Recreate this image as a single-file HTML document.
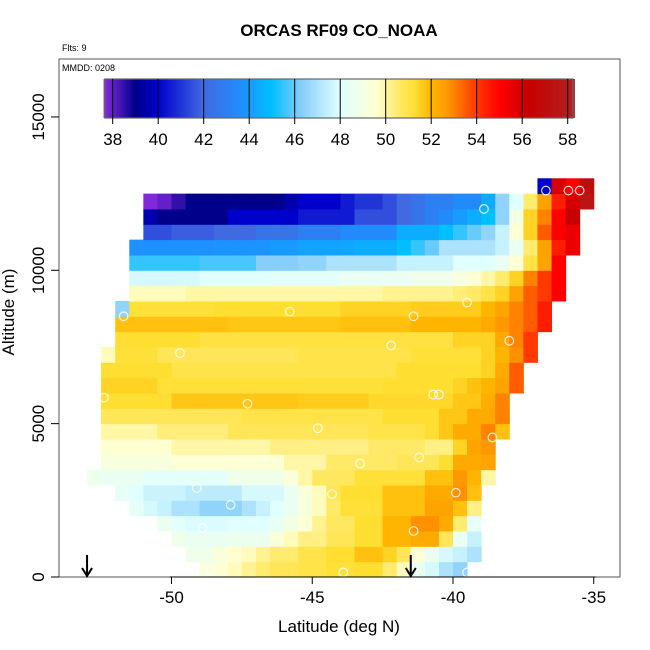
<!DOCTYPE html>
<html><head><meta charset="utf-8"><style>
body{margin:0;background:#fff;}
svg{display:block;font-family:"Liberation Sans",Arial,sans-serif;}
</style></head><body>
<svg id="chart" width="650" height="650" viewBox="0 0 650 650">
<g id="cells"></g>
<g id="pts"></g>
<g id="cbar"></g>
<rect x="59" y="59" width="561" height="518" fill="none" stroke="#555" stroke-width="1"/>
<g id="axes"></g>
<text x="339" y="36" text-anchor="middle" font-size="17" font-weight="bold">ORCAS RF09 CO_NOAA</text>
<text x="62" y="51" font-size="9">Flts: 9</text>
<text x="62" y="71" font-size="9">MMDD: 0208</text>
<text x="339" y="632" text-anchor="middle" font-size="17">Latitude (deg N)</text>
<text transform="translate(14,312) rotate(-90)" text-anchor="middle" font-size="17">Altitude (m)</text>
</svg>
<script>
const N=null;
const latStart=-53, latStep=0.5;
const altStep=500;
// rows from altitude 0-500 (index 0) upward; 36 columns from -53 to -35
const coRows=[
[N,N,N,N,N,N,N,N,49.2,49.5,49.8,50.2,50.5,50.8,50.8,51,51,51.2,51.2,51.3,51.3,50.5,49.8,48.5,47.8,47,46.5,N,N,N,N,N,N,N,N,N],
[N,N,N,N,N,N,N,48.8,48.8,49.3,49.6,49.8,50.2,50.5,50.5,51,51,51.3,51.3,51.8,51.8,51.5,50.8,49.5,48.5,47.8,47.5,47,N,N,N,N,N,N,N,N],
[N,N,N,N,N,N,48.8,48.5,48.5,48.5,48.6,48.6,48.6,49.3,49.8,50.3,50.3,50.8,50.8,51.3,51.3,52,52,52.3,52.3,50.8,48.5,47.5,N,N,N,N,N,N,N,N],
[N,N,N,N,N,48.5,48.2,47.9,47.9,47.9,48,48,48,48.4,49,49.5,50.2,50.7,50.7,51.3,51.3,52,52,52.8,52.8,52.3,50.5,48.3,N,N,N,N,N,N,N,N],
[N,N,N,48.3,47.8,47.5,47,47,46.5,46.5,46.5,47,47.5,48,48.5,49.2,49.8,50.6,51.2,51.2,51.2,51.8,51.8,51.8,52.5,52.5,51.8,50.3,N,N,N,N,N,N,N,N],
[N,N,48.3,48,47.6,47.6,47.6,47.3,47.3,47.3,47.3,47.8,47.8,47.8,48.5,49.2,49.8,50.8,51.3,51.3,51.3,51.8,51.8,51.8,52.3,52.3,52.8,51.8,N,N,N,N,N,N,N,N],
[48.7,48.5,48.5,48.5,48.2,48.2,48.2,48.2,48.2,48.2,48.8,48.8,48.8,48.8,49.3,50,50.7,50.7,50.7,51.2,51.2,51.2,51.2,51.2,51.8,51.8,52.7,52,50,N,N,N,N,N,N,N],
[N,49.2,49.2,49.2,49.2,49.2,49.5,49.5,49.5,49.5,49.5,49.5,49.5,49.5,50,50,50,50.6,50.6,50.6,50.6,50.6,50.8,50.8,50.8,51.3,52.3,52.3,52.5,N,N,N,N,N,N,N],
[N,49.6,49.6,49.6,49.6,49.6,50,50,50,50,50,50,50,50.3,50.3,50.3,50.3,50.3,50.3,50.3,50.6,50.6,50.6,50.6,50.3,50.3,51.5,52.5,52.7,N,N,N,N,N,N,N],
[N,50,50,50,50,50.4,50.4,50.4,50.4,50.4,50.8,50.8,50.8,50.8,50.8,50.8,50.8,50.8,50.8,50.8,51,51,51,51,51.3,51.7,52.3,52.3,53,51.8,N,N,N,N,N,N],
[N,50.8,50.8,50.8,50.8,50.8,50.8,50.8,50.8,50.8,50.8,51,51,51,51,51,51,51,51,51,51,51.3,51.3,51.3,51.3,51.7,51.7,52.3,52.3,53,N,N,N,N,N,N],
[N,51.3,51.3,51.3,51.3,51.3,51.7,51.7,51.7,51.7,51.7,51.7,51.7,51.7,51.7,51.6,51.6,51.6,51.6,51.6,51.4,51.4,51.4,51.4,51.4,51.4,51.7,51.7,52.2,53,N,N,N,N,N,N],
[N,51.5,51.5,51.5,51.5,51.2,51.2,51.2,51.2,51.2,51.2,51.2,51.2,51.2,51.2,51.2,51.2,51.2,51.2,51.2,51.2,51.3,51.3,51.3,51.3,51.3,51.5,51.8,52,52.5,53.5,N,N,N,N,N],
[N,51.3,51.3,51.3,51.3,51.3,51,51,51,51,51,51,51,51,51,51,51,51,51,51,51,51,51.3,51.3,51.3,51.3,51.3,51.3,51.5,52.3,53.5,N,N,N,N,N],
[N,49.8,51.2,51.2,51.2,50.8,50.8,50.8,50.8,50.8,50.8,50.8,50.8,50.8,50.8,51,51,51,51,51,51,51,51,51.2,51.2,51.2,51.2,51.2,51.5,52,52.8,54,N,N,N,N],
[N,N,51.3,51.3,51.3,51.3,51.3,51.3,51.1,51.1,51.1,51.1,51.1,51.1,51.1,51.1,51.1,51.1,51.1,51.1,51.1,51.1,51.1,51.1,51.1,51.1,51.5,51.5,51.5,52.3,53,54,N,N,N,N],
[N,N,51.8,51.8,51.8,51.8,51.8,51.8,51.8,51.8,51.7,51.7,51.7,51.7,51.7,51.7,51.7,51.7,51.8,51.8,51.8,51.8,51.8,52,52,52,52,52,52.3,52.7,53,53.5,54.5,N,N,N],
[N,N,46.5,51.2,51.2,51.2,51.2,51.2,51.2,51.3,51.3,51.3,51.3,51.3,51.3,51.3,51.3,51.3,51.5,51.5,51.5,51.5,51.5,51.6,51.6,51.6,51.6,51.6,52,52.5,53,53.5,54.5,N,N,N],
[N,N,N,49.8,49.8,49.8,49.8,50,50,50,50,50,50,50,50,50,50,50,50,50,50,50.2,50.2,50.2,50.2,50.2,50.4,50.6,51,51.5,52.5,53.5,54,55,N,N],
[N,N,N,47.8,47.8,47.8,47.8,47.8,48,48,48,48,48,48.2,48.2,48.2,48.2,48.2,48.5,48.5,48.5,48.5,48.5,48.8,48.8,48.8,49.2,49.5,50,50.5,51.5,53,54,55,N,N],
[N,N,N,45.5,45.5,45.5,45.5,45.5,45.7,45.7,45.7,45.7,46.3,46.3,46.3,46.5,46.5,47,47,47,47,47,47.5,47.5,47.5,47.5,48,48,48,48.5,49.5,51,52.5,55,N,N],
[N,N,N,43.7,43.7,43.7,43.7,43.7,43.7,43.8,43.8,43.8,43.8,44,44,44.2,44.2,44.2,44.3,44.5,44.5,44.5,45,45.5,46,47,47,47,47,47.5,48.5,50.5,52.5,54.5,55.5,N],
[N,N,N,N,41.5,41.5,41.8,41.8,41.8,42,42,42,42.5,42.5,42.5,43,43,43,43.5,43.5,43.5,43.5,44.5,44.5,44.5,45,45.5,46,46.5,47.5,49.5,51.5,53.5,55,55.5,N],
[N,N,N,N,39.5,39,39,39,39,39,40,40,40,40,40,40.5,40.5,40.5,40.5,41.5,41.5,41.5,42,42.5,43,43.5,44,44.5,45,46.5,49,51.5,53,55,56.5,N],
[N,N,N,N,37.7,38,38.5,39,39,39,39,39,39,39,39.5,40,40,40,40.5,41,41,41.5,42,42.5,43,43,43.5,43.5,44.5,46.5,48,50.5,52.5,54.5,56,57.5],
[N,N,N,N,N,N,N,N,N,N,N,N,N,N,N,N,N,N,N,N,N,N,N,N,N,N,N,N,N,N,N,N,40,56,55,57]
];
const ptLat=[-51.2,-38.9,-36.7,-35.9,-35.5,-51.7,-45.8,-41.4,-39.5,-38.0,-49.7,-42.2,-52.4,-47.3,-40.7,-40.5,-44.8,-38.6,-43.3,-41.2,-44.3,-39.9,-49.1,-47.9,-48.9,-41.4,-48.6,-43.9,-39.5];
const ptAlt=[12100,12000,12600,12600,12600,8500,8650,8500,8950,7700,7300,7550,5850,5650,5950,5950,4850,4550,3700,3900,2700,2750,2900,2350,1600,1500,200,150,150];
const xTicks=[-50,-45,-40,-35];
const yTicks=[0,5000,10000,15000];
const cbTicks=[38,40,42,44,46,48,50,52,54,56,58];
const arrowLats=[-53.0,-41.5];

const ns="http://www.w3.org/2000/svg";
const X=lat=>171.5+(lat+50)*28.15;
const Y=alt=>577-alt*0.03067;
const CB=v=>112.7+(v-38)*22.75;
const stops=[[37.6,[138,43,226]],[39,[0,0,139]],[40,[0,0,205]],[42,[65,105,225]],[43.7,[30,144,255]],[45,[0,191,255]],[46.3,[135,206,250]],[48,[224,255,255]],[49.6,[255,255,210]],[50.5,[255,235,110]],[51.3,[255,222,50]],[52,[255,180,0]],[52.6,[255,160,0]],[53.8,[255,69,0]],[55,[255,0,0]],[56.3,[200,0,0]],[58.3,[178,34,34]]];
function col(v){
  if(v<=stops[0][0])return "rgb("+stops[0][1]+")";
  for(let i=1;i<stops.length;i++){if(v<=stops[i][0]){const a=stops[i-1],b=stops[i],t=(v-a[0])/(b[0]-a[0]);
    return "rgb("+a[1].map((c,k)=>Math.round(c+(b[1][k]-c)*t)).join(",")+")";}}
  return "rgb("+stops[stops.length-1][1]+")";
}
function mk(tag,attrs,parent){const e=document.createElementNS(ns,tag);for(const k in attrs)e.setAttribute(k,attrs[k]);parent.appendChild(e);return e;}
const cells=document.getElementById('cells');
coRows.forEach((row,r)=>{row.forEach((v,c)=>{if(v===null)return;
  const la=latStart+c*latStep, al=r*altStep;
  const x0=X(la),x1=X(la+latStep),y0=Y(al+altStep),y1=Y(al);
  const e=mk('rect',{x:x0,y:y0,width:x1-x0+0.5,height:y1-y0+0.5,fill:col(v)},cells);
  
  
});});
const pts=document.getElementById('pts');
ptLat.forEach((la,i)=>{const e=mk('circle',{cx:X(la),cy:Y(ptAlt[i]),r:4.3,fill:"none",stroke:"rgba(255,255,255,0.85)","stroke-width":1.2},pts);
  
  
});
const cb=document.getElementById('cbar');
for(let v=37.6;v<58.3;v+=0.1){const e=mk('rect',{x:CB(v),y:79,width:22.75*0.1+0.4,height:39,fill:col(v+0.05)},cb);
  
  }
mk('rect',{x:105,y:79,width:468,height:39,fill:"none",stroke:"#666","stroke-width":1.2},cb);
cbTicks.forEach(t=>{const x=CB(t);
  mk('line',{x1:x,x2:x,y1:79,y2:124,stroke:"#000","stroke-width":1},cb);
  const e=mk('text',{x:x,y:145,"text-anchor":"middle","font-size":17},cb);e.textContent=t;
  
  
});
const ax=document.getElementById('axes');
xTicks.forEach(t=>{const x=X(t);mk('line',{x1:x,x2:x,y1:577,y2:584,stroke:"#000"},ax);
  const e=mk('text',{x:x,y:603,"text-anchor":"middle","font-size":17},ax);e.textContent=t;
  
  });
yTicks.forEach(t=>{const y=Y(t);mk('line',{x1:51,x2:59,y1:y,y2:y,stroke:"#000"},ax);
  const e=mk('text',{transform:`translate(44,${y}) rotate(-90)`,"text-anchor":"middle","font-size":17},ax);e.textContent=t;
  
  });
mk('line',{x1:X(-50)-2,x2:X(-35)+2,y1:577,y2:577,stroke:"#000"},ax);
arrowLats.forEach(la=>{const x=X(la);
  const g=mk('g',{},ax);
  
  
  mk('line',{x1:x,x2:x,y1:555,y2:575,stroke:"#000","stroke-width":2},g);
  mk('path',{d:`M${x-5},${568} L${x},${576} L${x+5},${568}`,fill:"none",stroke:"#000","stroke-width":2},g);
});
</script>
</body></html>
